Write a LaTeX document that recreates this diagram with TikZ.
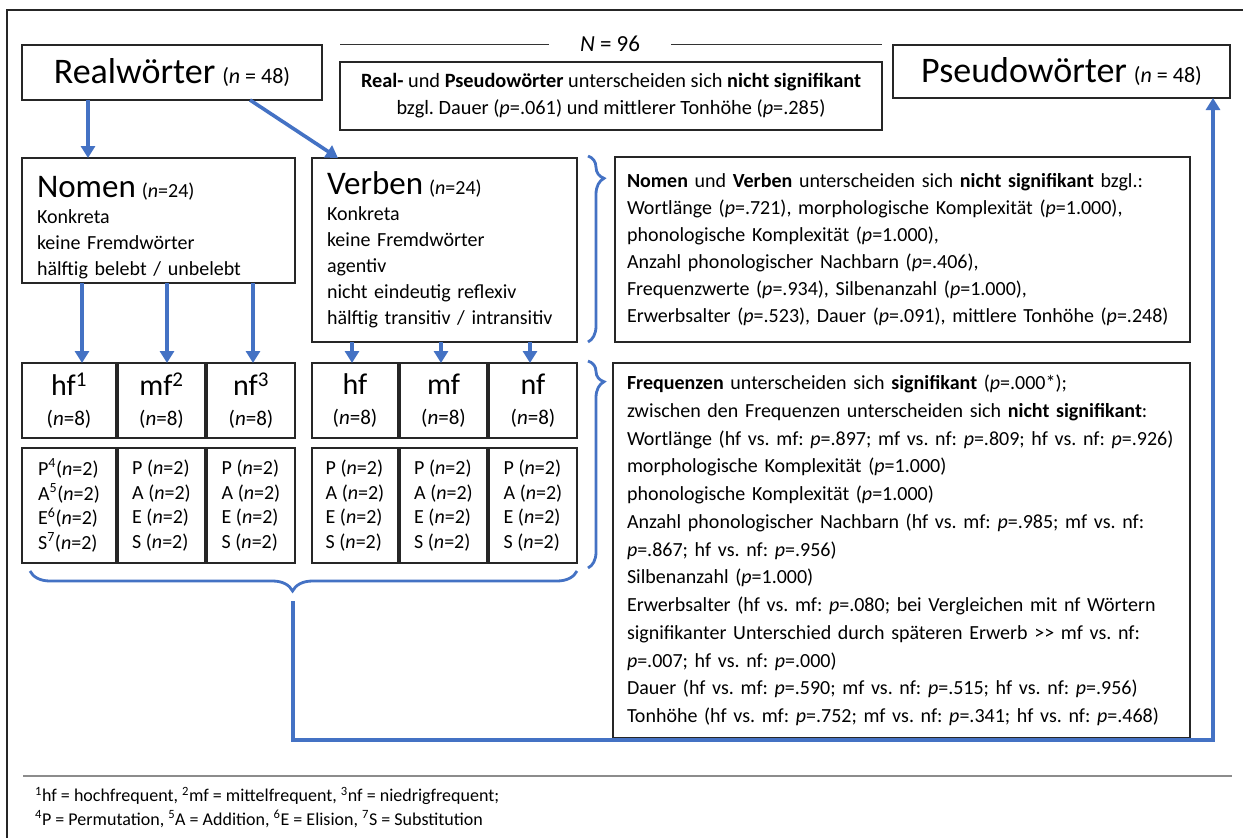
\documentclass[tikz,border=0pt]{standalone}
\usepackage{fontspec}
\setmainfont{Carlito}
\usetikzlibrary{arrows.meta,decorations.pathreplacing,calc}
\definecolor{arrblue}{RGB}{68,114,196}
\newcommand\bodyfs{\fontsize{20}{27.75}\selectfont}
\newcommand\midfs{\fontsize{20}{26}\selectfont}
\newcommand\smallfs{\fontsize{20}{24.7}\selectfont}
\newcommand\nfs{\fontsize{20}{22}\selectfont}
\newcommand\titfs{\fontsize{33}{36}\selectfont}
\frenchspacing
\begin{document}
\begin{tikzpicture}[x=1pt,y=-1pt,
  box/.style={draw=black!85,line width=1.1pt,inner sep=0pt,outer sep=0pt,anchor=north west},
  flow/.style={draw=arrblue,line width=3.6pt,-{Triangle[width=14pt,length=12pt]}},
  brc/.style={draw=arrblue,line width=2.8pt,decorate,decoration={brace,amplitude=#1}},
  thinline/.style={draw=black!80,line width=0.9pt},
  topbox/.style={box,minimum height=75pt,align=center,font=\fontsize{21}{30}\selectfont},
  botbox/.style={box,minimum height=115pt,align=left,font=\smallfs},
]
\useasboundingbox (0,0) rectangle (1243,838);
% outer frame
\draw[line width=1.1pt,black!85] (7,838) -- (7,10) -- (1243,10);

% top row
\node[box,minimum width=300pt,minimum height=55pt] (real) at (22,45)
  {{\fontsize{36}{40}\selectfont Realwörter}\hspace{7pt}{\fontsize{22}{24}\selectfont(\textit{n} = 48)}};
\node[box,minimum width=337pt,minimum height=53pt] (pseudo) at (893,45)
  {{\fontsize{36}{40}\selectfont Pseudowörter}\hspace{7pt}{\fontsize{22}{24}\selectfont(\textit{n} = 48)}};
\node[box,minimum width=542pt,minimum height=68pt,align=center,font=\fontsize{20.3}{27}\selectfont] (cmp) at (340,62)
  {\textbf{Real-} und \textbf{Pseudowörter} unterscheiden sich \textbf{nicht signifikant}\\
   bzgl. Dauer (\textit{p}=.061) und mittlerer Tonhöhe (\textit{p}=.285)};
\node[font=\fontsize{23}{25}\selectfont,inner xsep=31pt,inner ysep=0pt] (N) at (610,44) {\textit{N} = 96};
\coordinate (nl) at (340,44);
\coordinate (nr) at (882,44);
\draw[thinline] (nl) -- (N.west);
\draw[thinline] (N.east) -- (nr);

% Nomen / Verben
\node[box,minimum width=273pt,minimum height=125pt,inner xsep=15pt,text width=243pt,align=left,font=\midfs] (nomen) at (22,158)
  {\rule{0pt}{36pt}{\titfs Nomen}\hspace{6pt}{\nfs(\textit{n}=24)}\\
   Konkreta\\ keine Fremdwörter\\ hälftig belebt / unbelebt};
\node[box,minimum width=265pt,minimum height=184pt,inner xsep=15pt,text width=235pt,align=left,font=\midfs] (verben) at (312,158)
  {{\titfs Verben}\hspace{6pt}{\nfs(\textit{n}=24)}\\
   Konkreta\\ keine Fremdwörter\\ agentiv\\ nicht eindeutig reflexiv\\ hälftig transitiv / intransitiv};

% right info boxes
\node[box,minimum width=575pt,minimum height=185pt,inner xsep=12pt,text width=551pt,align=left,font=\fontsize{20}{27}\selectfont] (info1) at (615,157)
  {\textbf{Nomen} und \textbf{Verben} unterscheiden sich \textbf{nicht signifikant} bzgl.:\\
   Wortlänge (\textit{p}=.721), morphologische Komplexität (\textit{p}=1.000),\\
   phonologische Komplexität (\textit{p}=1.000),\\
   Anzahl phonologischer Nachbarn (\textit{p}=.406),\\
   Frequenzwerte (\textit{p}=.934), Silbenanzahl (\textit{p}=1.000),\\
   Erwerbsalter (\textit{p}=.523), Dauer (\textit{p}=.091), mittlere Tonhöhe (\textit{p}=.248)};
\node[box,minimum width=577pt,minimum height=375pt,inner xsep=14pt,text width=549pt,align=left,font=\bodyfs] (info2) at (613,363)
  {\textbf{Frequenzen} unterscheiden sich \textbf{signifikant} (\textit{p}=.000*);\\
   zwischen den Frequenzen unterscheiden sich \textbf{nicht signifikant}:\\
   Wortlänge (hf vs. mf: \textit{p}=.897; mf vs. nf: \textit{p}=.809; hf vs. nf: \textit{p}=.926)\\
   morphologische Komplexität (\textit{p}=1.000)\\
   phonologische Komplexität (\textit{p}=1.000)\\
   Anzahl phonologischer Nachbarn (hf vs. mf: \textit{p}=.985; mf vs. nf:\\
   \textit{p}=.867; hf vs. nf: \textit{p}=.956)\\
   Silbenanzahl (\textit{p}=1.000)\\
   Erwerbsalter (hf vs. mf: \textit{p}=.080; bei Vergleichen mit nf Wörtern\\
   signifikanter Unterschied durch späteren Erwerb >{}> mf vs. nf:\\
   \textit{p}=.007; hf vs. nf: \textit{p}=.000)\\
   Dauer (hf vs. mf: \textit{p}=.590; mf vs. nf: \textit{p}=.515; hf vs. nf: \textit{p}=.956)\\
   Tonhöhe (hf vs. mf: \textit{p}=.752; mf vs. nf: \textit{p}=.341; hf vs. nf: \textit{p}=.468)};

% frequency boxes (top row)
\node[topbox,minimum width=94pt] (hfN) at (22,363) {{\fontsize{30}{30}\selectfont hf\textsuperscript{1}}\\(\textit{n}=8)};
\node[topbox,minimum width=87pt] (mfN) at (118,363) {{\fontsize{30}{30}\selectfont mf\textsuperscript{2}}\\(\textit{n}=8)};
\node[topbox,minimum width=88pt] (nfN) at (207,363) {{\fontsize{30}{30}\selectfont nf\textsuperscript{3}}\\(\textit{n}=8)};
\node[topbox,minimum width=86pt] (hfV) at (312,363) {{\fontsize{30}{30}\selectfont hf}\\(\textit{n}=8)};
\node[topbox,minimum width=87pt] (mfV) at (400,363) {{\fontsize{30}{30}\selectfont mf}\\(\textit{n}=8)};
\node[topbox,minimum width=88pt] (nfV) at (489,363) {{\fontsize{30}{30}\selectfont nf}\\(\textit{n}=8)};

% frequency boxes (bottom row)
\node[botbox,minimum width=94pt] (hfNb) at (22,448) {P\textsuperscript{4}(\textit{n}=2)\\A\textsuperscript{5}(\textit{n}=2)\\E\textsuperscript{6}(\textit{n}=2)\\S\textsuperscript{7}(\textit{n}=2)};
\node[botbox,minimum width=87pt] (mfNb) at (118,448) {P (\textit{n}=2)\\A (\textit{n}=2)\\E (\textit{n}=2)\\S (\textit{n}=2)};
\node[botbox,minimum width=88pt] (nfNb) at (207,448) {P (\textit{n}=2)\\A (\textit{n}=2)\\E (\textit{n}=2)\\S (\textit{n}=2)};
\node[botbox,minimum width=86pt] (hfVb) at (312,448) {P (\textit{n}=2)\\A (\textit{n}=2)\\E (\textit{n}=2)\\S (\textit{n}=2)};
\node[botbox,minimum width=87pt] (mfVb) at (400,448) {P (\textit{n}=2)\\A (\textit{n}=2)\\E (\textit{n}=2)\\S (\textit{n}=2)};
\node[botbox,minimum width=88pt] (nfVb) at (489,448) {P (\textit{n}=2)\\A (\textit{n}=2)\\E (\textit{n}=2)\\S (\textit{n}=2)};

% arrows
\draw[flow] ([xshift=66pt]real.south west) -- ([xshift=66pt]nomen.north west);
\draw[flow] ([xshift=228pt]real.south west) -- ([xshift=26pt]verben.north west);
\draw[flow] ([xshift=60pt]nomen.south west) -- ([xshift=60pt]hfN.north west);
\draw[flow] ([xshift=145pt]nomen.south west) -- ([xshift=49pt]mfN.north west);
\draw[flow] ([xshift=231pt]nomen.south west) -- ([xshift=46pt]nfN.north west);
\draw[flow] ([xshift=40pt]verben.south west) -- ([xshift=40pt]hfV.north west);
\draw[flow] ([xshift=129pt]verben.south west) -- ([xshift=41pt]mfV.north west);
\draw[flow] ([xshift=218pt]verben.south west) -- ([xshift=41pt]nfV.north west);

% braces
\draw[brc=16pt,decoration={aspect=0.12}] ([shift={(11pt,2pt)}]verben.north east) -- ([xshift=11pt]verben.south east);
\draw[brc=16pt,decoration={aspect=0.1}] ([shift={(11pt,2pt)}]nfV.north east) -- ([shift={(11pt,-5pt)}]nfVb.south east);
\draw[brc=20pt,decoration={aspect=0.52}] ([yshift=-8pt]nfVb.south east) -- ([shift={(8pt,-8pt)}]hfNb.south west);
\coordinate (btip) at (293,601);
\coordinate (corner) at (1213,740);
\draw[flow] (btip) |- (corner) -- ([xshift=320pt]pseudo.south west);

% footnotes
\draw[draw=black!45,line width=1.8pt] (23,776) -- (1232,776);
\node[anchor=west,inner sep=0pt,font=\fontsize{18}{20}\selectfont] (fn1) at (35,796)
  {\textsuperscript{1}hf = hochfrequent, \textsuperscript{2}mf = mittelfrequent, \textsuperscript{3}nf = niedrigfrequent;};
\node[anchor=west,inner sep=0pt,font=\fontsize{18}{20}\selectfont] (fn2) at (35,819)
  {\textsuperscript{4}P = Permutation, \textsuperscript{5}A = Addition, \textsuperscript{6}E = Elision, \textsuperscript{7}S = Substitution};
\end{tikzpicture}
\end{document}
